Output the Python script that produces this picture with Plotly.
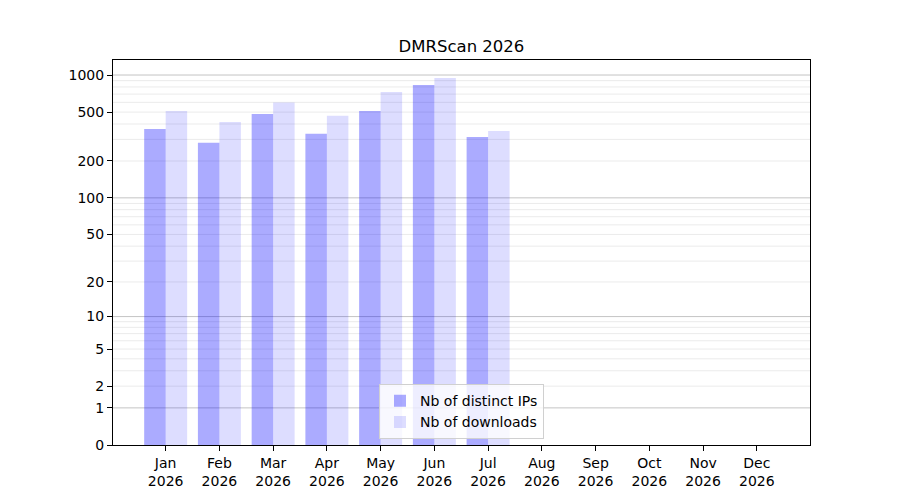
import numpy as np
import plotly.graph_objects as go

# monthly stats (only Jan..Jul have data)
months = ['Jan', 'Feb', 'Mar', 'Apr', 'May', 'Jun', 'Jul', 'Aug', 'Sep', 'Oct', 'Nov', 'Dec']
year = 2026
distinct_ips = [364, 281, 483, 333, 511, 831, 314]
downloads = [511, 416, 597, 466, 729, 947, 351]

# y labels and grid of the log(1+x) scale
y_ticks = [0, 1, 2, 5, 10, 20, 50, 100, 200, 500, 1000]
major_grid = [1, 10, 100, 1000]
minor_grid = [m * d for d in [1, 10, 100] for m in range(2, 10)]


def fwd(v):
    # the chart uses a log10(1 + x) axis
    return np.log10(1 + np.asarray(v, dtype=float))


fig = go.Figure()

fig.add_trace(go.Bar(
    x=list(range(len(distinct_ips))), y=fwd(distinct_ips),
    name='Nb of distinct IPs',
    marker=dict(color='rgba(0,0,255,0.33)', line=dict(width=0)),
    customdata=distinct_ips, hovertemplate='%{customdata}<extra></extra>',
))
fig.add_trace(go.Bar(
    x=list(range(len(downloads))), y=fwd(downloads),
    name='Nb of downloads',
    marker=dict(color='rgba(0,0,255,0.135)', line=dict(width=0)),
    customdata=downloads, hovertemplate='%{customdata}<extra></extra>',
))

# grid lines (minor light, decades darker), under the bars
for v in minor_grid:
    fig.add_shape(type='line', xref='paper', x0=0, x1=1, yref='y', y0=fwd(v), y1=fwd(v),
                  line=dict(color='#ebebeb', width=1), layer='below')
for v in major_grid:
    fig.add_shape(type='line', xref='paper', x0=0, x1=1, yref='y', y0=fwd(v), y1=fwd(v),
                  line=dict(color='#c4c4c4', width=1), layer='below')

# the page body adds an 8px offset, margins compensate for it
fig.update_layout(
    width=900, height=500,
    margin=dict(l=105, r=98, t=52, b=63),
    paper_bgcolor='white', plot_bgcolor='white',
    font=dict(family='DejaVu Sans', size=14, color='black'),
    title=dict(text=f'DMRScan {year}', x=0.5, xref='paper', xanchor='center',
               y=1 - 38 / 500, yref='container', yanchor='middle',
               font=dict(size=16.5, color='black')),
    barmode='group', bargap=0.2, bargroupgap=0,
    showlegend=True,
    legend=dict(x=0.5, xanchor='center', y=0.015, yanchor='bottom',
                bgcolor='rgba(255,255,255,0.8)', bordercolor='#d0d0d0', borderwidth=1,
                font=dict(size=14), tracegroupgap=0),
    xaxis=dict(
        range=[-0.98, 11.99],
        tickmode='array', tickvals=list(range(len(months))),
        ticktext=[f'{m}<br>{year}' for m in months],
        ticks='outside', ticklen=5, tickcolor='black',
        showline=True, linecolor='black', linewidth=1, mirror=True,
        showgrid=False, zeroline=False,
    ),
    yaxis=dict(
        range=[0, fwd(1324)],
        tickmode='array', tickvals=fwd(y_ticks), ticktext=[str(t) for t in y_ticks],
        ticks='outside', ticklen=5, tickcolor='black',
        showline=True, linecolor='black', linewidth=1, mirror=True,
        showgrid=False, zeroline=False,
    ),
)

fig.write_html("out.html")
